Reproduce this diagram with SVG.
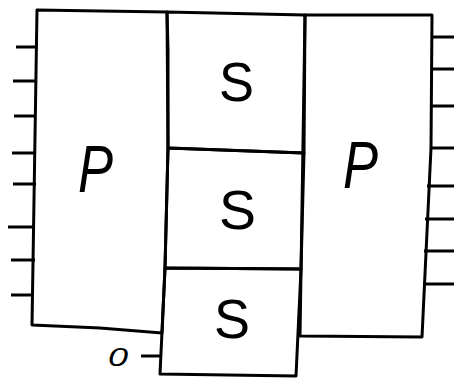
<svg xmlns="http://www.w3.org/2000/svg" width="454" height="378" viewBox="0 0 454 378">
<style>
.box{fill:none;stroke:#000;stroke-width:3;stroke-linejoin:round;stroke-linecap:round}
.tick{fill:none;stroke:#000;stroke-width:3;stroke-linecap:butt}
.lbl{font-family:"Liberation Sans",Arial,sans-serif;fill:#000}
.p{font-style:italic;font-size:66px}
.s{font-size:56px}
</style>
<rect width="454" height="378" fill="#fff"/>
<g id="p-left">
<path class="box" d="M37,10 L100,11 L167,12 L168,50 L168,148 L165,268 L162,333 L100,328 L32,325 L34,200 L37,10 Z"/>
<text class="lbl p" x="78" y="192" textLength="35" lengthAdjust="spacingAndGlyphs">P</text>
</g>
<g id="s-top">
<path class="box" d="M167,12 L305,15 L304,153 L168,148 Z"/>
<text class="lbl s" x="219" y="101" textLength="35" lengthAdjust="spacingAndGlyphs">S</text>
</g>
<g id="s-mid">
<path class="box" d="M168,148 L304,153 L301,269 L165,268 Z"/>
<text class="lbl s" x="219" y="229" textLength="37" lengthAdjust="spacingAndGlyphs">S</text>
</g>
<g id="s-bot">
<path class="box" d="M165,268 L301,269 L296,376 L160,374 Z"/>
<text class="lbl s" x="214" y="338" textLength="36" lengthAdjust="spacingAndGlyphs">S</text>
</g>
<g id="p-right">
<path class="box" d="M305,15 L432,15 L431,148 L422,337 L300,336 Z"/>
<text class="lbl p" x="343" y="188" textLength="35" lengthAdjust="spacingAndGlyphs">P</text>
</g>
<g id="connectors">
<path class="tick" d="M16,47 H37 M13,81 H37 M14,116 H36 M12,153 H36 M13,184 H36 M8,227 H35 M11,260 H35 M11,295 H34"/>
<path class="tick" d="M432,37 H454 M432,69 H454 M431,106 H454 M431,148 H454 M427,186 H454 M425,219 H454 M424,251 H454 M423,284 H454"/>
<path class="tick" d="M141,356 H160"/>
<text id="zero" class="lbl" x="108" y="366" font-size="25" font-style="italic" textLength="20" lengthAdjust="spacingAndGlyphs">0</text>
</g>
</svg>
